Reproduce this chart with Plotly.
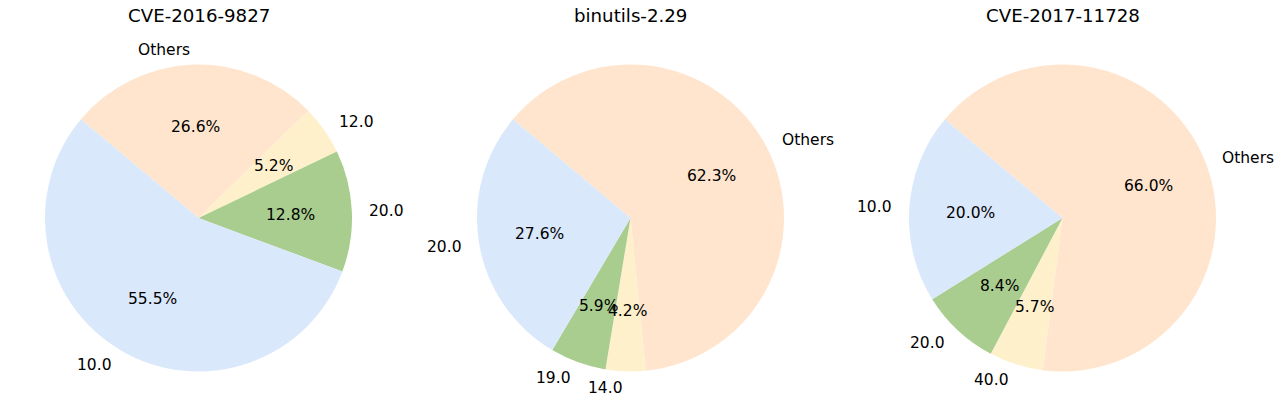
import numpy as np
import plotly.graph_objects as go

titles = ["CVE-2016-9827", "binutils-2.29", "CVE-2017-11728"]

labels_1 = ["10.0", "20.0", "12.0", "Others"]
share_1 = [55.5, 12.8, 5.2, 26.6]

labels_2 = ["20.0", "19.0", "14.0", "Others"]
share_2 = [27.6, 5.9, 4.2, 62.3]

labels_3 = ["10.0", "20.0", "40.0", "Others"]
share_3 = [20.0, 8.4, 5.7, 66.0]

pies = [(labels_1, share_1), (labels_2, share_2), (labels_3, share_3)]
colors = ["#dae8fc", "#a9cd8f", "#fff0cc", "#ffe5cd"]

W, H = 1280, 417
centers_x = [198.5, 630.5, 1062.5]  # центры кругов в пикселях
center_y = 218
radius = 153.5
start_angle = 140  # как startangle в matplotlib
font = "DejaVu Sans"


def px(x, y):
    return x / W, 1 - y / H


fig = go.Figure()
annotations = []

for i, (labels, share) in enumerate(pies):
    cx = centers_x[i]
    x0, y1 = px(cx - radius, center_y - radius)
    x1, y0 = px(cx + radius, center_y + radius)
    # против часовой стрелки от start_angle == по часовой в обратном порядке
    fig.add_trace(go.Pie(
        labels=labels[::-1], values=share[::-1],
        sort=False, direction="clockwise",
        rotation=90 - start_angle,
        marker={'colors': colors[::-1], 'line': {'width': 0}},
        textinfo="none", hoverinfo="label+percent",
        showlegend=False,
        domain={'x': [x0, x1], 'y': [y0, y1]},
    ))

    total = sum(share)
    cum = 0
    for lab, v in zip(labels, share):
        theta = np.radians(start_angle + 360 * (cum + v / 2) / total)
        cum += v
        # подпись снаружи
        x, y = px(cx + 1.1 * radius * np.cos(theta), center_y + 1 - 1.1 * radius * np.sin(theta))
        annotations.append(dict(x=x, y=y, xref="paper", yref="paper", text=lab,
                                showarrow=False,
                                xanchor="left" if np.cos(theta) > 0 else "right",
                                yanchor="middle", font={'size': 15.5}))
        # процент внутри
        x, y = px(cx + 0.6 * radius * np.cos(theta), center_y + 1 - 0.6 * radius * np.sin(theta))
        annotations.append(dict(x=x, y=y, xref="paper", yref="paper", text=f"{v:.1f}%",
                                showarrow=False, xanchor="center", yanchor="middle",
                                font={'size': 15.5}))

    x, y = px(cx, 16)
    annotations.append(dict(x=x, y=y, xref="paper", yref="paper", text=titles[i],
                            showarrow=False, xanchor="center", yanchor="middle",
                            font={'size': 18.2}))

fig.update_layout(
    width=W,
    height=H,
    margin={'l': 0, 'r': 0, 't': 0, 'b': 0},
    paper_bgcolor="white",
    plot_bgcolor="white",
    font={'family': font, 'color': "black"},
    annotations=annotations,
)

# убираем стандартный отступ body, чтобы график совпадал с окном
fig.write_html("out.html", config={'displayModeBar': False},
               post_script="document.body.style.margin = '0';")
